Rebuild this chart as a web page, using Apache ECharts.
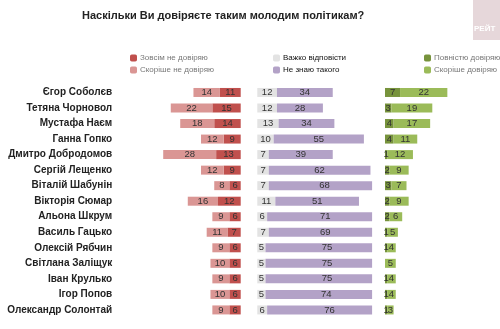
<!DOCTYPE html>
<html><head><meta charset="utf-8">
<script src="https://cdn.jsdelivr.net/npm/echarts@6/dist/echarts.min.js"></script>
<style>html,body{margin:0;padding:0;background:#fff}#c{width:500px;height:329px}</style>
</head><body><div id="c"></div>
<script>
const names = ["Єгор Соболєв","Тетяна Чорновол","Мустафа Наєм","Ганна Гопко","Дмитро Добродомов","Сергій Лещенко","Віталій Шабунін","Вікторія Сюмар","Альона Шкрум","Василь Гацько","Олексій Рябчин","Світлана Заліщук","Іван Крулько","Ігор Попов","Олександр Солонтай"];
const distrustFull = [11,15,14,9,13,9,6,12,6,7,6,6,6,6,6];
const distrustRather = [14,22,18,12,28,12,8,16,9,11,9,10,9,10,9];
const hardToSay = [12,12,13,10,7,7,7,11,6,7,5,5,5,5,6];
const unknown = [34,28,34,55,39,62,68,51,71,69,75,75,75,74,76];
const trustFull = [7,3,4,4,1,2,3,2,2,1,1,0,1,1,1];
const trustRather = [22,19,17,11,12,9,7,9,6,5,4,5,4,4,3];

const FONT = '"Liberation Sans",Arial,sans-serif';
const C = {dr:'#C0504D', lr:'#DA9694', gr:'#E3E3E3', pu:'#B3A2C7', dg:'#77933C', lg:'#9BBB59'};

const midMax = 70, midLeft = 257.3, midWidth = 114.8;
const sc = midWidth / midMax;
const unknownData = unknown.map((v, i) => {
  const over = Math.max(0, hardToSay[i] + v - midMax);
  return {value: v, label: {offset: [over * sc / 2, 0]}};
});

const lbl = {show: true, position: 'inside', fontSize: 9.5, color: '#333', fontFamily: FONT,
  formatter: p => (p.value ? p.value : '')};

function bar(name, data, color, gi, stack) {
  return {type: 'bar', name, data, stack, xAxisIndex: gi, yAxisIndex: gi, barWidth: 9,
    itemStyle: {color}, label: lbl, emphasis: {disabled: true}, animation: false};
}

const legendBase = {orient: 'vertical', top: 54, padding: 0, itemWidth: 7, itemHeight: 7, itemGap: 4};
const gTop = 84.7, gHeight = 233;
const chart = echarts.init(document.getElementById('c'));
chart.setOption({
  animation: false,
  title: {text: 'Наскільки Ви довіряєте таким молодим політикам?', left: 77, top: 5,
    textStyle: {fontSize: 11, fontWeight: 'bold', color: '#222', fontFamily: FONT}},
  legend: [
    Object.assign({data: ['Зовсім не довіряю', 'Скоріше не довіряю'], left: 130,
      textStyle: {fontSize: 8, color: '#777', fontFamily: FONT, padding: [0, 0, 0, -2]}}, legendBase),
    Object.assign({data: ['Важко відповісти', 'Не знаю такого'], left: 273,
      textStyle: {fontSize: 8, color: '#111', fontFamily: FONT, padding: [0, 0, 0, -2]}}, legendBase),
    Object.assign({data: ['Повністю довіряю', 'Скоріше довіряю'], left: 424,
      textStyle: {fontSize: 8, color: '#777', fontFamily: FONT, padding: [0, 0, 0, -2]}}, legendBase)
  ],
  grid: [
    {left: 146.2, width: 94.5, top: gTop, height: gHeight},
    {left: midLeft, width: midWidth, top: gTop, height: gHeight},
    {left: 385, width: 64.5, top: gTop, height: gHeight}
  ],
  xAxis: [
    {gridIndex: 0, type: 'value', min: 0, max: 50, inverse: true, show: false},
    {gridIndex: 1, type: 'value', min: 0, max: midMax, show: false},
    {gridIndex: 2, type: 'value', min: 0, max: 30, show: false}
  ],
  yAxis: [0, 1, 2].map(g => ({
    gridIndex: g, type: 'category', data: names, inverse: true,
    axisLine: {show: false}, axisTick: {show: false}, splitLine: {show: false},
    axisLabel: g === 0 ? {show: true, margin: 34, fontSize: 10, fontWeight: 'bold', color: '#222', fontFamily: FONT} : {show: false}
  })),
  series: [
    bar('Зовсім не довіряю', distrustFull, C.dr, 0, 'a'),
    bar('Скоріше не довіряю', distrustRather, C.lr, 0, 'a'),
    bar('Важко відповісти', hardToSay, C.gr, 1, 'b'),
    bar('Не знаю такого', unknownData, C.pu, 1, 'b'),
    bar('Повністю довіряю', trustFull, C.dg, 2, 'c'),
    bar('Скоріше довіряю', trustRather, C.lg, 2, 'c')
  ],
  graphic: [
    {type: 'rect', shape: {x: 473, y: 0, width: 27, height: 40}, style: {fill: '#E6D7DA'}, silent: true},
    {type: 'text', x: 474, y: 25, style: {text: 'РЕЙТ', fill: '#fff', fontSize: 8, fontWeight: 'bold', fontFamily: FONT}, silent: true}
  ]
});
</script></body></html>
